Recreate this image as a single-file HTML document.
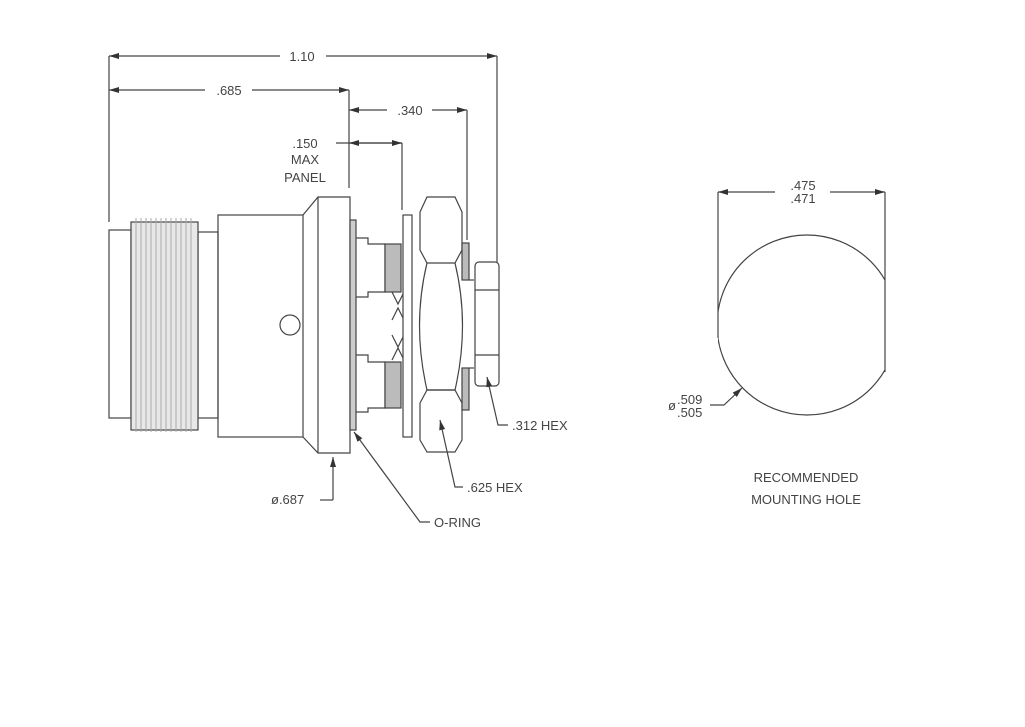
<!DOCTYPE html>
<html><head><meta charset="utf-8"><style>
html,body{margin:0;padding:0;background:#fff;}
svg{display:block}
text{font-family:"Liberation Sans",sans-serif;font-size:13px;fill:#444;}
</style></head><body>
<svg width="1025" height="727" viewBox="0 0 1025 727" xmlns="http://www.w3.org/2000/svg">
<defs>
<marker id="a" markerWidth="10" markerHeight="6" refX="10" refY="3" orient="auto-start-reverse" markerUnits="userSpaceOnUse">
<path d="M0,0 L10,3 L0,6 z" fill="#333"/></marker>
<clipPath id="hc"><rect x="718" y="200" width="167" height="250"/></clipPath>
</defs>
<g stroke="#444" stroke-width="1.2" fill="none">
<line x1="109" y1="56" x2="280" y2="56" marker-start="url(#a)"/>
<line x1="326" y1="56" x2="497" y2="56" marker-end="url(#a)"/>
<line x1="109" y1="90" x2="205" y2="90" marker-start="url(#a)"/>
<line x1="252" y1="90" x2="349" y2="90" marker-end="url(#a)"/>
<line x1="349" y1="110" x2="387" y2="110" marker-start="url(#a)"/>
<line x1="432" y1="110" x2="467" y2="110" marker-end="url(#a)"/>
<line x1="336" y1="143" x2="402" y2="143"/>
<line x1="349" y1="143" x2="402" y2="143" marker-start="url(#a)" marker-end="url(#a)"/>
<line x1="109" y1="56" x2="109" y2="222"/>
<line x1="497" y1="56" x2="497" y2="262"/>
<line x1="349" y1="90" x2="349" y2="188"/>
<line x1="467" y1="110" x2="467" y2="240"/>
<line x1="402" y1="143" x2="402" y2="210"/>
<rect x="109" y="230" width="22" height="188"/>
<rect x="198" y="232" width="20" height="186"/>
<rect x="131" y="222" width="67" height="208" fill="#e8e8e8"/>
<g stroke="#aaa" stroke-width="1">
<line x1="136" y1="218" x2="136" y2="432"/><line x1="141" y1="218" x2="141" y2="432"/><line x1="146" y1="218" x2="146" y2="432"/><line x1="151" y1="218" x2="151" y2="432"/><line x1="156" y1="218" x2="156" y2="432"/><line x1="161" y1="218" x2="161" y2="432"/><line x1="166" y1="218" x2="166" y2="432"/><line x1="171" y1="218" x2="171" y2="432"/><line x1="176" y1="218" x2="176" y2="432"/><line x1="181" y1="218" x2="181" y2="432"/><line x1="186" y1="218" x2="186" y2="432"/><line x1="191" y1="218" x2="191" y2="432"/>
</g>
<rect x="218" y="215" width="85" height="222"/>
<path d="M303,215 L318,197 L350,197 L350,453 L318,453 L303,437"/>
<line x1="318" y1="197" x2="318" y2="453"/>
<rect x="350" y="220" width="6" height="210" fill="#ccc"/>
<circle cx="290" cy="325" r="10"/>
<path d="M356,238 L368,238 L368,244 L385,244 L385,292 L368,292 L368,297 L356,297"/>
<path d="M356,355 L368,355 L368,362 L385,362 L385,408 L368,408 L368,412 L356,412"/>
<rect x="385" y="244" width="16" height="48" fill="#bbb"/>
<rect x="385" y="362" width="16" height="46" fill="#bbb"/>
<path d="M392,292 l6,12 l6,-12 M392,320 l6,-12 l6,12 M392,335 l6,12 l6,-12 M392,360 l6,-12 l6,12"/>
<rect x="403" y="215" width="9" height="222" fill="#fff"/>
<path d="M427,197 L455,197 L462,212 L462,250 L455,263 L427,263 L420,250 L420,212 Z"/>
<path d="M427,263 Q412,325 427,390 L455,390 Q470,325 455,263"/>
<path d="M427,390 L455,390 L462,403 L462,440 L455,452 L427,452 L420,440 L420,403 Z"/>
<rect x="462" y="243" width="7" height="37" fill="#bbb"/>
<rect x="462" y="368" width="7" height="42" fill="#bbb"/>
<line x1="469" y1="280" x2="474" y2="280"/><line x1="469" y1="368" x2="474" y2="368"/>
<rect x="475" y="262" width="24" height="124" rx="4"/>
<line x1="475" y1="290" x2="499" y2="290"/><line x1="475" y1="355" x2="499" y2="355"/>
<polyline points="333,500 333,457" marker-end="url(#a)"/>
<line x1="320" y1="500" x2="333" y2="500"/>
<polyline points="430,522 420,522 354,432" marker-end="url(#a)"/>
<polyline points="463,487 455,487 440,420" marker-end="url(#a)"/>
<polyline points="508,425 498,425 487,377" marker-end="url(#a)"/>
<line x1="718" y1="192" x2="775" y2="192" marker-start="url(#a)"/>
<line x1="830" y1="192" x2="885" y2="192" marker-end="url(#a)"/>
<line x1="718" y1="192" x2="718" y2="312"/>
<line x1="885" y1="192" x2="885" y2="278"/>
<circle cx="807" cy="325" r="90" clip-path="url(#hc)"/>
<line x1="718" y1="312" x2="718" y2="338"/>
<line x1="885" y1="278" x2="885" y2="372"/>
<polyline points="710,405 724,405 742,388" marker-end="url(#a)"/>
</g>
<text x="302" y="61" text-anchor="middle">1.10</text>
<text x="229" y="95" text-anchor="middle">.685</text>
<text x="410" y="115" text-anchor="middle">.340</text>
<text x="305" y="148" text-anchor="middle" font-size="12">.150</text>
<text x="305" y="164" text-anchor="middle" font-size="12">MAX</text>
<text x="305" y="182" text-anchor="middle" font-size="12">PANEL</text>
<text x="512" y="430">.312  HEX</text>
<text x="467" y="492">.625  HEX</text>
<text x="271" y="504">ø.687</text>
<text x="434" y="527">O-RING</text>
<text x="803" y="190" text-anchor="middle">.475</text>
<text x="803" y="203" text-anchor="middle">.471</text>
<text x="668" y="410" font-size="12">ø</text>
<text x="677" y="404" font-size="12">.509</text>
<text x="677" y="417" font-size="12">.505</text>
<text x="806" y="482" text-anchor="middle" font-size="14">RECOMMENDED</text>
<text x="806" y="504" text-anchor="middle" font-size="14">MOUNTING  HOLE</text>
</svg>
</body></html>
